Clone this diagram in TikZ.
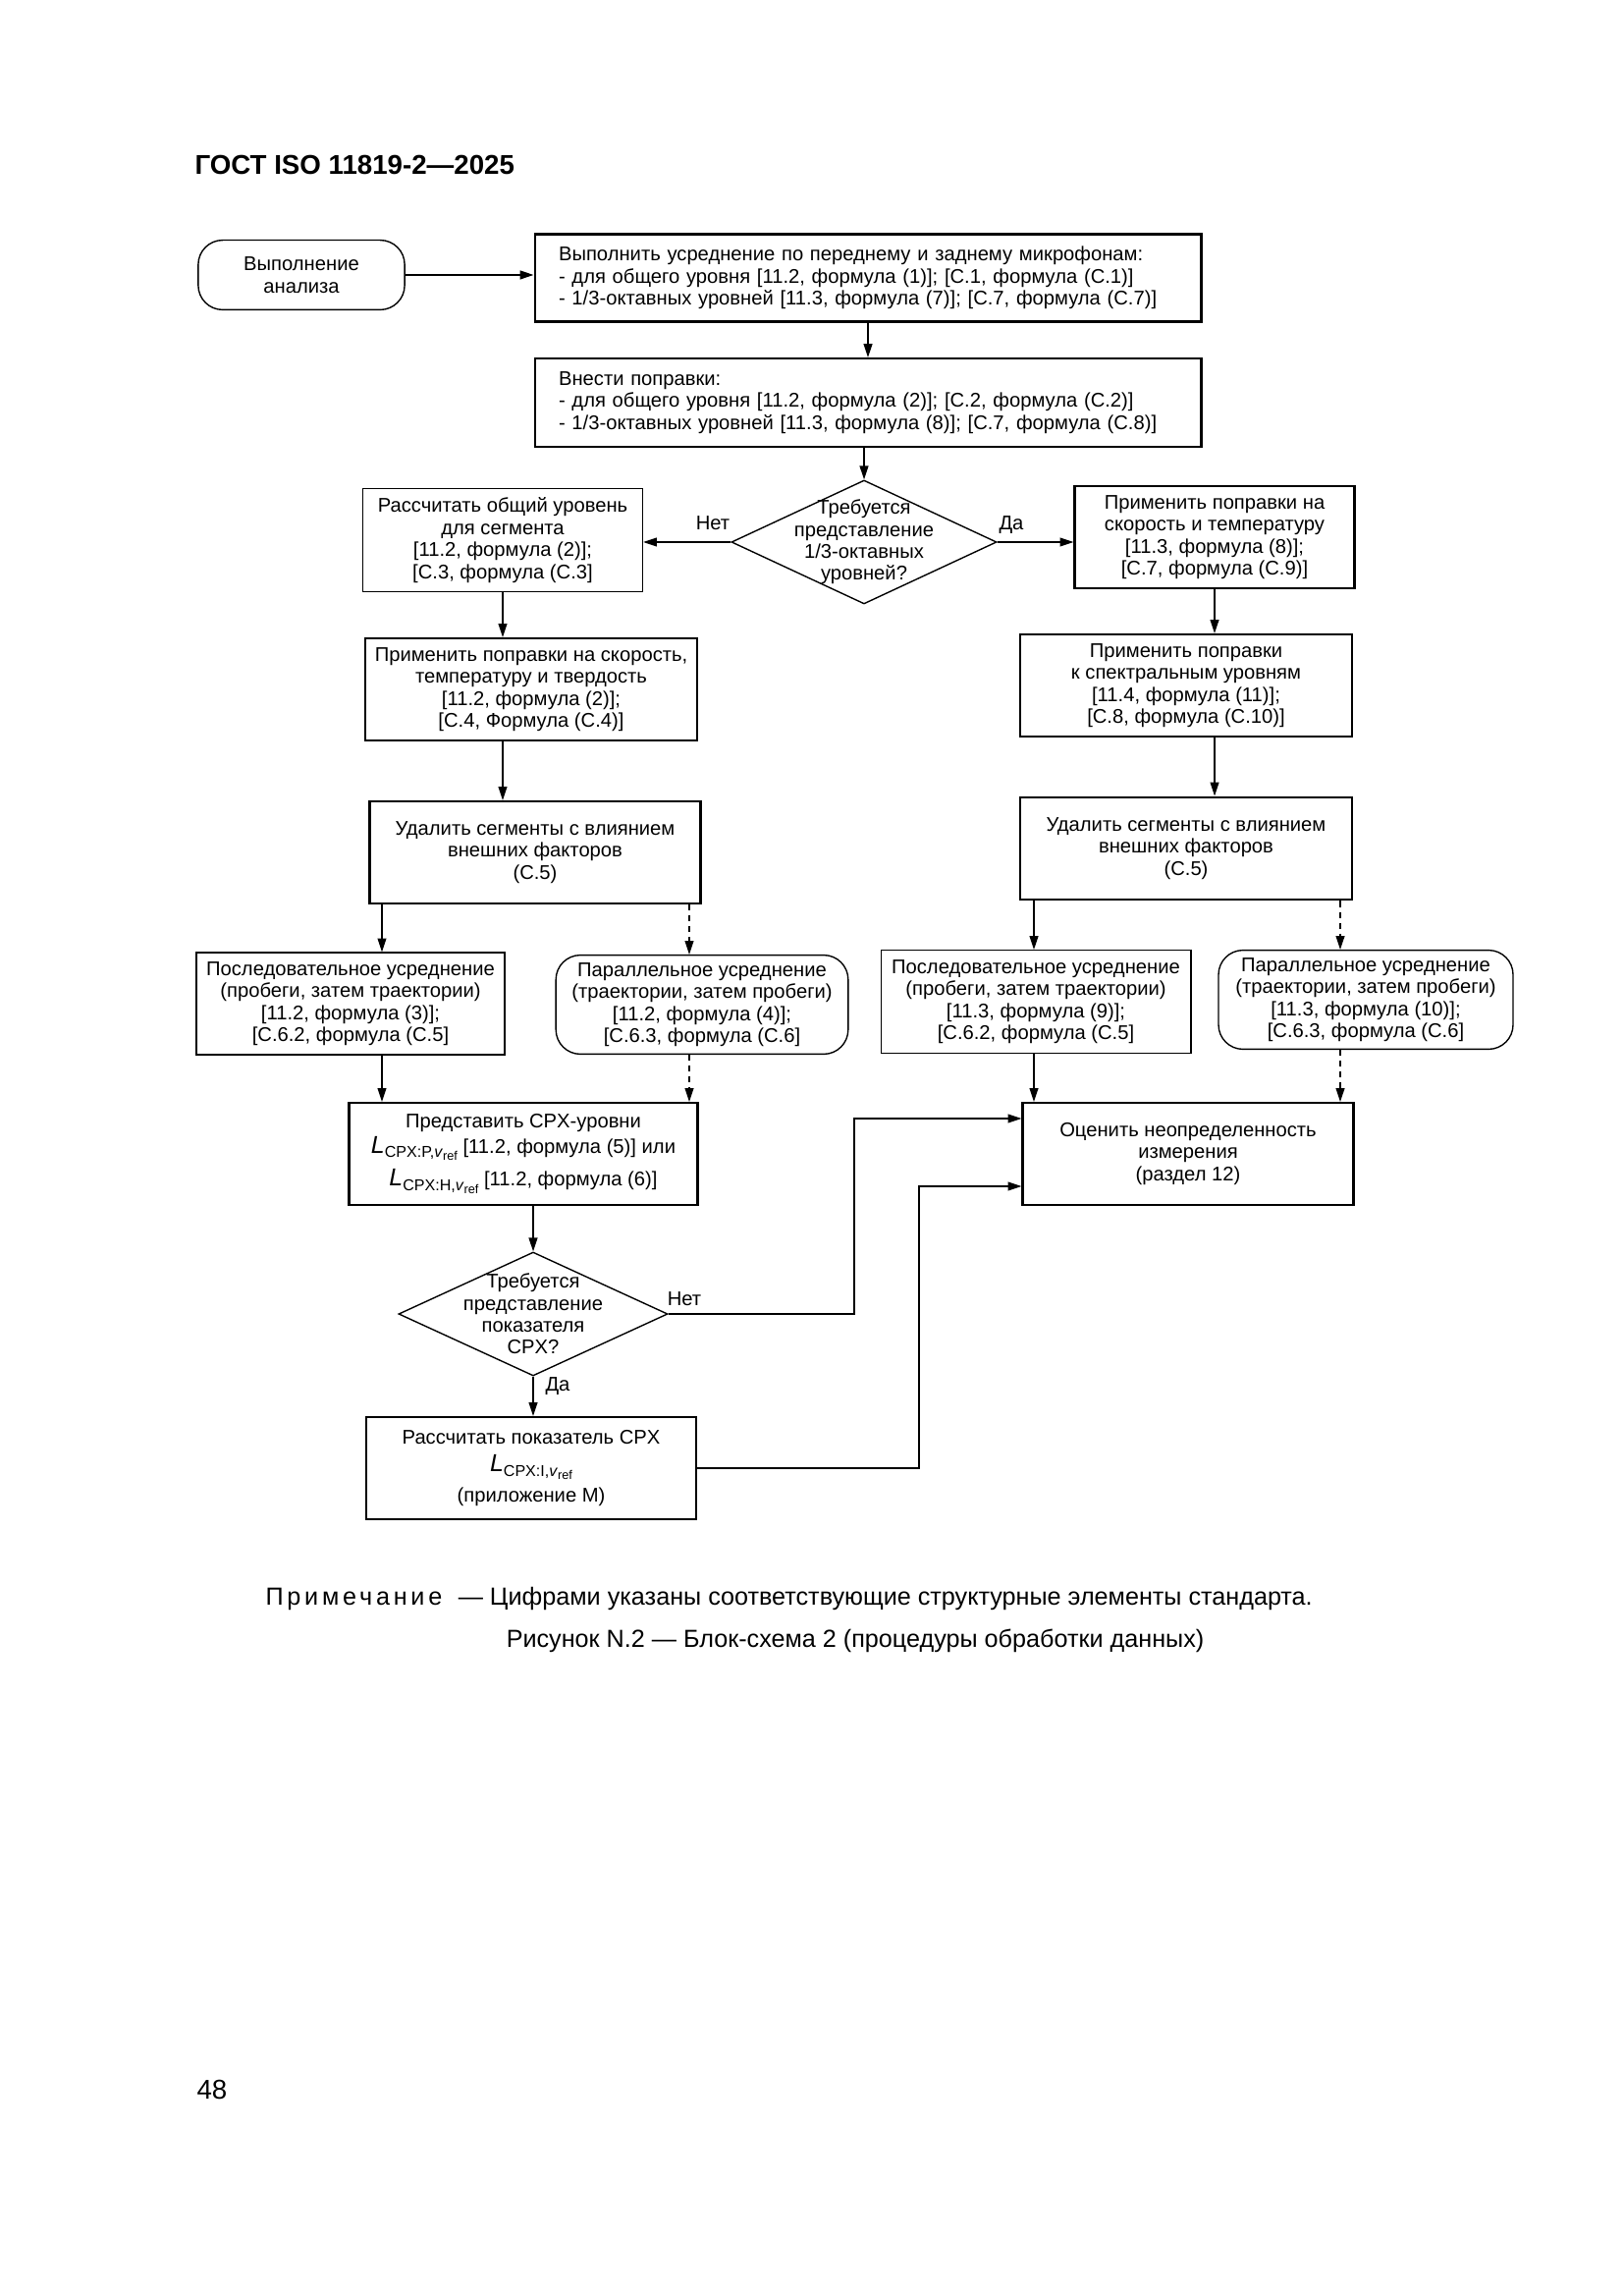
\documentclass[tikz,border=0pt]{standalone}
\usepackage{fontspec}
\setmainfont{Liberation Sans}
\usetikzlibrary{shapes.geometric,arrows.meta}

\newcommand{\Lsub}[1]{{\fontsize{9}{8}\selectfont\itshape L}\raisebox{-0.45ex}{\fontsize{5.8}{5}\selectfont CPX:#1,\textit{v}\raisebox{-0.35ex}{\fontsize{4.6}{4}\selectfont ref}}}

\tikzset{
  every node/.style={font=\fontsize{7.3}{8.1}\selectfont, inner sep=0pt},
  blk/.style={draw, rectangle, line width=0.8pt, align=center},
  blkthin/.style={blk, line width=0.45pt},
  rnd/.style={blk, line width=0.5pt, rounded corners=9pt},
  decision/.style={draw, diamond, line width=0.5pt},
  arr/.style={-{Triangle[length=5pt,width=3.2pt]}, line width=0.5pt},
  dasharr/.style={arr, dash pattern=on 2.2pt off 1.8pt},
  big/.style={font=\fontsize{9.1}{11}\selectfont}
}

\begin{document}
\begin{tikzpicture}[x=0.127mm,y=-0.127mm]
\fill[white] (0,0) rectangle (1653,2338);
\useasboundingbox (0,0) rectangle (1653,2338);
\node[font=\fontsize{10}{12}\selectfont\bfseries, anchor=base west] (title) at (198,178) {ГОСТ ISO 11819-2—2025};

%% top part
\node[rnd, minimum width=26.7mm, minimum height=9mm] (start) at (307,280) {Выполнение\\анализа};
\node[blk, align=left, text width=80mm, inner xsep=3.1mm, minimum height=11.3mm] (avg) at (884,283) {Выполнить усреднение по переднему и заднему микрофонам:\\- для общего уровня [11.2, формула (1)]; [C.1, формула (C.1)]\\- 1/3-октавных уровней [11.3, формула (7)]; [C.7, формула (C.7)]};
\node[blk, align=left, text width=80mm, inner xsep=3.1mm, minimum height=11.4mm] (corr) at (884,410) {Внести поправки:\\- для общего уровня [11.2, формула (2)]; [C.2, формула (C.2)]\\- 1/3-октавных уровней [11.3, формула (8)]; [C.7, формула (C.8)]};
\node[decision, minimum width=34.3mm, minimum height=16mm] (q1) at (880,552) {};
\node[align=center] (q1t) at (q1) {Требуется\\представление\\1/3-октавных\\уровней?};
\node (no1) at (726,533) {Нет};
\node (yes1) at (1030,535) {Да};

%% branch 1
\node[blkthin, minimum width=36.2mm, minimum height=13.3mm] (seg) at (512,550) {Рассчитать общий уровень\\для сегмента\\{[}11.2, формула (2)];\\{[}C.3, формула (C.3]};
\node[blk, minimum width=42.9mm, minimum height=13.2mm] (spd) at (541,702) {Применить поправки на скорость,\\температуру и твердость\\{[}11.2, формула (2)];\\{[}C.4, Формула (C.4)]};
\node[blk, minimum width=42.8mm, minimum height=13.2mm] (del1) at (545,868) {Удалить сегменты с влиянием\\внешних факторов\\(C.5)};
\node[blkthin, minimum width=39.9mm, minimum height=13.2mm] (seq1) at (357,1022) {Последовательное усреднение\\(пробеги, затем траектории)\\{[}11.2, формула (3)];\\{[}C.6.2, формула (C.5]};
\node[rnd, minimum width=37.8mm, minimum height=12.8mm] (par1) at (715,1023) {Параллельное усреднение\\(траектории, затем пробеги)\\{[}11.2, формула (4)];\\{[}C.6.3, формула (C.6]};
\node[blk, minimum width=45.1mm, minimum height=13.2mm] (show) at (533,1175) {Представить CPX-уровни\\[1pt]\Lsub{P} [11.2, формула (5)] или\\[2pt]\Lsub{H} [11.2, формула (6)]};
\node[decision, minimum width=34.8mm, minimum height=16mm] (q2) at (543,1338) {};
\node[align=center] (q2t) at (q2) {Требуется\\представление\\показателя\\CPX?};
\node (no2) at (697,1323) {Нет};
\node (yes2) at (568,1412) {Да};
\node[blk, minimum width=42.7mm, minimum height=13.2mm] (idx) at (541,1495) {Рассчитать показатель CPX\\[2pt]\Lsub{I}\\[2pt](приложение М)};

%% branch 2
\node[blk, minimum width=36.2mm, minimum height=13.3mm] (app) at (1237,547) {Применить поправки на\\скорость и температуру\\{[}11.3, формула (8)];\\{[}C.7, формула (C.9)]};
\node[blk, minimum width=42.9mm, minimum height=13.2mm] (spec) at (1208,698) {Применить поправки\\к спектральным уровням\\{[}11.4, формула (11)];\\{[}C.8, формула (C.10)]};
\node[blk, minimum width=43mm, minimum height=13.3mm] (del2) at (1208,864) {Удалить сегменты с влиянием\\внешних факторов\\(C.5)};
\node[blkthin, minimum width=40.1mm, minimum height=13.3mm] (seq2) at (1055,1020) {Последовательное усреднение\\(пробеги, затем траектории)\\{[}11.3, формула (9)];\\{[}C.6.2, формула (C.5]};
\node[rnd, minimum width=38.1mm, minimum height=12.8mm] (par2) at (1391,1018) {Параллельное усреднение\\(траектории, затем пробеги)\\{[}11.3, формула (10)];\\{[}C.6.3, формула (C.6]};
\node[blk, minimum width=42.8mm, minimum height=13.2mm] (unc) at (1210,1175) {Оценить неопределенность\\измерения\\(раздел 12)};

%% connectors
\coordinate (c1) at (389,0);
\coordinate (c2) at (702,0);
\coordinate (c3) at (1053,0);
\coordinate (c4) at (1365,0);
\coordinate (k1) at (870,1139);
\coordinate (k2) at (936,1208);
\draw[arr] (start.east) -- (start.east -| avg.west);
\draw[arr] (avg.south) -- (corr.north);
\draw[arr] (corr.south -| q1.north) -- (q1.north);
\draw[arr] (q1.west) -- (q1.west -| seg.east);
\draw[arr] (q1.east) -- (q1.east -| app.west);
\draw[arr] (seg.south) -- (seg.south |- spd.north);
\draw[arr] (spd.south -| seg.south) -- (del1.north -| seg.south);
\draw[arr] (app.south) -- (app.south |- spec.north);
\draw[arr] (spec.south -| app.south) -- (del2.north -| app.south);
\draw[arr] (del1.south -| c1) -- (seq1.north -| c1);
\draw[dasharr] (del1.south -| c2) -- (par1.north -| c2);
\draw[arr] (seq1.south -| c1) -- (show.north -| c1);
\draw[dasharr] (par1.south -| c2) -- (show.north -| c2);
\draw[arr] (del2.south -| c3) -- (seq2.north -| c3);
\draw[dasharr] (del2.south -| c4) -- (par2.north -| c4);
\draw[arr] (seq2.south -| c3) -- (unc.north -| c3);
\draw[dasharr] (par2.south -| c4) -- (unc.north -| c4);
\draw[arr] (show.south -| q2.north) -- (q2.north);
\draw[arr] (q2.south) -- (q2.south |- idx.north);
\draw[arr] (q2.east) -| (k1) -- (k1 -| unc.west);
\draw[arr] (idx.east) -| (k2) -- (k2 -| unc.west);

%% captions
\node[big, anchor=west] (note) at (270,1628) {{\addfontfeature{LetterSpace=15}Примечание}\hspace{1.2mm} — Цифрами указаны соответствующие структурные элементы стандарта.};
\node[big] (cap) at (871,1671) {Рисунок N.2 — Блок-схема 2 (процедуры обработки данных)};
\node[font=\fontsize{10}{12}\selectfont, anchor=west] (pg) at (200,2128) {48};
\end{tikzpicture}
\end{document}
